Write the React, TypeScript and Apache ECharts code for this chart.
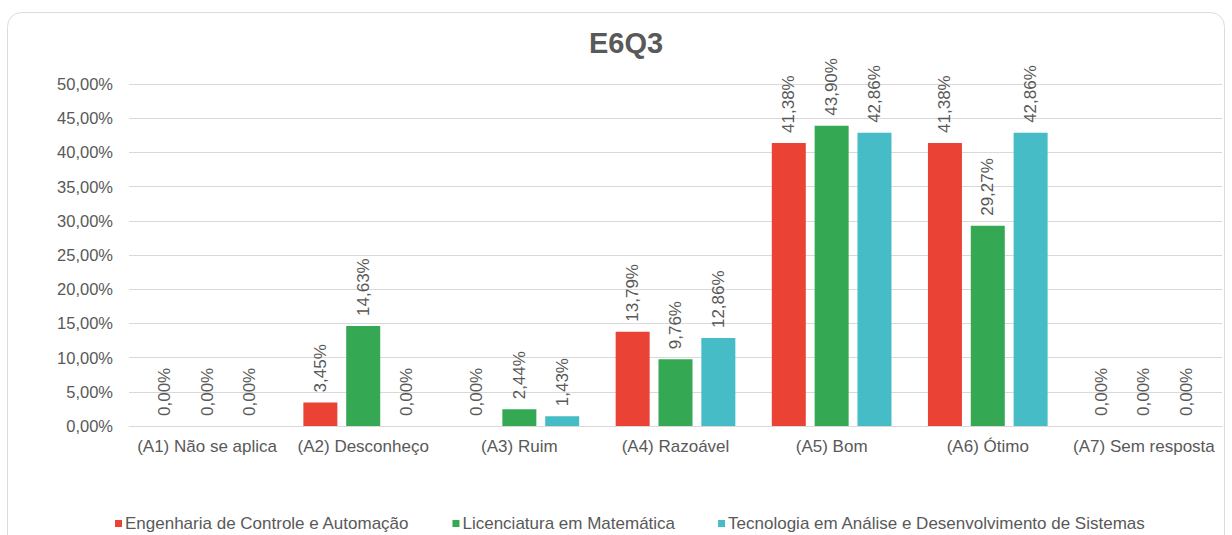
import React, { useEffect, useRef } from "react";
import * as echarts from "echarts";

const categories = [
  "(A1) Não se aplica",
  "(A2) Desconheço",
  "(A3) Ruim",
  "(A4) Razoável",
  "(A5) Bom",
  "(A6) Ótimo",
  "(A7) Sem resposta",
];
const seriesNames = [
  "Engenharia de Controle e Automação",
  "Licenciatura em Matemática",
  "Tecnologia em Análise e Desenvolvimento de Sistemas",
];
const engenharia = [0, 3.45, 0, 13.79, 41.38, 41.38, 0];
const licenciatura = [0, 14.63, 2.44, 9.76, 43.9, 29.27, 0];
const tecnologia = [0, 0, 1.43, 12.86, 42.86, 42.86, 0];
const colors = ["#ea4335", "#34a853", "#46bdc6"];

const FONT = "'Liberation Sans', Arial, sans-serif";
const fmt = (v: number) => v.toFixed(2).replace(".", ",") + "%";

export default function App() {
  const ref = useRef<HTMLDivElement>(null);
  useEffect(() => {
    if (!ref.current) return;
    const chart = echarts.init(ref.current, null, { renderer: "svg" });
    const data = [engenharia, licenciatura, tecnologia];
    chart.setOption({
      animation: false,
      backgroundColor: "#ffffff",
      textStyle: { fontFamily: FONT },
      graphic: [
        {
          type: "rect",
          shape: { x: 7.5, y: 12.5, width: 1217, height: 560, r: 14 },
          style: { fill: "none", stroke: "#dcdcdc", lineWidth: 1 },
          silent: true,
        },
      ],
      title: {
        text: "E6Q3",
        left: 584,
        top: 23,
        textStyle: { fontFamily: FONT, fontSize: 29, fontWeight: "bold", color: "#595959" },
      },
      legend: {
        left: 110,
        top: 510,
        itemWidth: 7,
        itemHeight: 7,
        itemGap: 43,
        icon: "rect",
        textStyle: { fontFamily: FONT, fontSize: 17, color: "#595959", padding: [0, 0, 0, -2] },
        data: seriesNames,
      },
      grid: { left: 129, right: 10, top: 84, bottom: 109 },
      xAxis: {
        type: "category",
        data: categories,
        axisTick: { show: false },
        axisLine: { lineStyle: { color: "#d9d9d9" } },
        axisLabel: { fontFamily: FONT, fontSize: 17, color: "#595959", margin: 12, interval: 0 },
      },
      yAxis: {
        type: "value",
        min: 0,
        max: 50,
        interval: 5,
        axisLine: { show: false },
        axisTick: { show: false },
        splitLine: { lineStyle: { color: "#d9d9d9" } },
        axisLabel: {
          fontFamily: FONT,
          fontSize: 16.5,
          color: "#595959",
          margin: 16,
          formatter: (v: number) => fmt(v),
        },
      },
      series: seriesNames.map((name, i) => ({
        name,
        type: "bar",
        data: data[i],
        barWidth: 34,
        barGap: "26%",
        itemStyle: { color: colors[i] },
        label: {
          show: true,
          position: "top",
          rotate: 90,
          align: "left",
          verticalAlign: "middle",
          distance: 10,
          fontFamily: FONT,
          fontSize: 17,
          color: "#595959",
          formatter: (p: any) => fmt(p.value),
        },
      })),
    });
    return () => chart.dispose();
  }, []);
  return (
    <div
      ref={ref}
      style={{ position: "fixed", left: 0, top: 0, width: 1232, height: 535 }}
    />
  );
}
